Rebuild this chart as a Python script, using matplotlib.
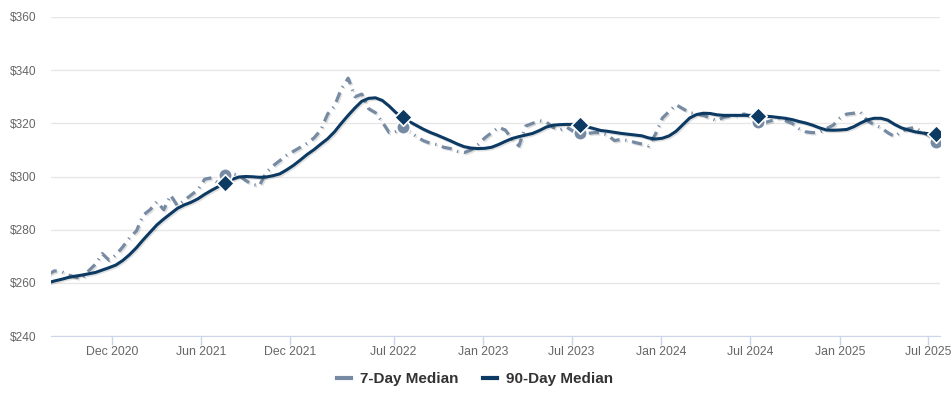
import numpy as np
import pandas as pd
import matplotlib
matplotlib.use("Agg")
import matplotlib.pyplot as plt
import matplotlib.patheffects as pe
from matplotlib.lines import Line2D
from matplotlib.ticker import FuncFormatter

plt.rcParams['font.family'] = ['Liberation Sans', 'DejaVu Sans']

# biweekly readings, last one 2025-07-16
dates = pd.date_range(end='2025-07-16', periods=131, freq='14D')

median_7d = [
    263.0, 264.5, 264.3, 263.0, 262.2, 261.5, 264.5, 267.0, 271.0, 268.5,
    270.5, 273.5, 277.0, 279.5, 285.5, 287.5, 290.5, 287.5, 293.0, 289.0,
    291.0, 293.0, 295.0, 299.0, 299.5, 297.5, 300.5, 301.0, 300.5, 298.5,
    297.0, 296.5, 301.5, 304.0, 306.0, 308.0, 309.5, 311.0, 312.5, 314.5,
    317.5, 323.5, 326.5, 333.0, 337.0, 330.0, 331.0, 325.5, 324.0, 320.5,
    316.5, 317.0, 318.5, 317.0, 315.0, 313.5, 312.5, 312.0, 311.0, 310.5,
    309.5, 309.0, 310.0, 312.0, 314.5, 316.5, 318.5, 317.5, 314.0, 311.5,
    319.0, 320.0, 321.0, 320.5, 318.5, 317.5, 318.5, 317.0, 316.3, 316.2,
    316.5, 316.5, 315.5, 313.5, 314.0, 313.5, 312.8, 312.2, 311.5, 316.0,
    322.0, 324.5, 327.0, 325.5, 324.0, 323.5, 323.0, 322.0, 321.0, 322.3,
    322.8, 323.0, 323.5, 322.5, 320.5, 320.3, 321.0, 321.8, 321.0, 320.0,
    318.0, 316.8, 316.5, 316.6, 318.0, 319.3, 322.0, 323.5, 323.8, 324.2,
    321.0, 319.5, 318.3, 316.5, 315.0, 317.0, 318.0, 318.5, 316.6, 315.5,
    313.0,
]

median_90d = [
    260.0, 260.7, 261.3, 262.0, 262.5, 262.9, 263.4, 263.9, 264.8, 265.7,
    266.7, 268.4, 270.6, 273.2, 276.2, 279.0, 281.8, 284.0, 286.0, 288.0,
    289.3, 290.3, 291.6, 293.3, 294.8, 296.2, 297.7, 298.9, 299.8, 300.0,
    299.9, 299.7, 299.8, 300.3, 301.0, 302.5, 304.2, 306.2, 308.3, 310.1,
    312.2, 314.2, 316.8, 320.0, 323.0, 325.8, 328.3, 329.4, 329.6, 328.6,
    326.5, 324.0, 322.2, 320.6, 319.2, 317.8, 316.6, 315.6, 314.5, 313.4,
    312.2, 311.2, 310.7, 310.5, 310.6, 311.0, 312.0, 313.2, 314.3, 315.0,
    315.6, 316.2, 317.3, 318.6, 319.3, 319.5, 319.6, 319.6, 319.2, 318.7,
    318.0, 317.3, 317.0, 316.6, 316.2, 315.9, 315.6, 315.3, 314.5, 314.1,
    314.4, 315.3, 317.0, 319.5, 322.0, 323.3, 323.8, 323.7, 323.2, 323.0,
    323.0, 323.0, 323.0, 323.0, 322.9, 322.7, 322.5, 322.2, 321.9, 321.4,
    320.7, 320.1, 319.3, 318.3, 317.5, 317.4, 317.5, 317.7, 318.7, 320.1,
    321.3, 321.9, 321.9, 321.2, 319.6, 318.3, 317.5, 316.8, 316.4, 316.1,
    315.8,
]

tick_dates = ['2020-12-01', '2021-06-01', '2021-12-01', '2022-07-01', '2023-01-01',
              '2023-07-01', '2024-01-01', '2024-07-01', '2025-01-01', '2025-07-01']
tick_labels = ['Dec 2020', 'Jun 2021', 'Dec 2021', 'Jul 2022', 'Jan 2023',
               'Jul 2023', 'Jan 2024', 'Jul 2024', 'Jan 2025', 'Jul 2025']

c7 = '#768ba3'
c90 = '#0c3a63'

s7 = pd.Series(median_7d, index=dates)
s90 = pd.Series(median_90d, index=dates)
# same day of year as the latest reading, one per year back
marks = [d for i, d in enumerate(dates) if i > 0 and (len(dates) - 1 - i) % 26 == 0]

fig = plt.figure(figsize=(9.53, 3.96), dpi=100)
ax = fig.add_axes([51 / 953, 60 / 396, 889 / 953, 319 / 396])

shadow = [pe.SimpleLineShadow(offset=(1, -1), shadow_color='k', alpha=0.12), pe.Normal()]
ax.plot(s7.index, s7.values, color=c7, lw=2.3, linestyle=(0, (3.2, 1.8, 0.4, 1.8)),
        path_effects=shadow, zorder=3, dash_capstyle='butt')
ax.plot(s90.index, s90.values, color=c90, lw=2.2, path_effects=shadow, zorder=4)

ax.scatter(marks, s7[marks], s=95, marker='o', color=c7, edgecolor='white',
           linewidth=1.2, zorder=5)
ax.scatter(marks, s90[marks], s=80, marker='D', color=c90, edgecolor='white',
           linewidth=1.2, zorder=6)

ax.set_xlim(pd.Timestamp('2020-07-29'), pd.Timestamp('2025-07-25'))
ax.set_ylim(240, 360)
ax.set_yticks(np.arange(240, 361, 20))
ax.yaxis.set_major_formatter(FuncFormatter(lambda v, p: f'${v:.0f}'))
ax.set_xticks([pd.Timestamp(d) for d in tick_dates])
ax.set_xticklabels(tick_labels)

ax.grid(axis='y', color='#e6e6e6', lw=1)
ax.set_axisbelow(True)
for side in ['top', 'right', 'left']:
    ax.spines[side].set_visible(False)
ax.spines['bottom'].set_color('#ccd6eb')
ax.tick_params(axis='y', length=0, pad=10.5, labelsize=8.6, labelcolor='#666666')
ax.tick_params(axis='x', length=6.5, width=1, color='#ccd6eb', pad=1,
               labelsize=8.8, labelcolor='#666666')

handles = [Line2D([], [], color=c7, lw=3), Line2D([], [], color=c90, lw=3)]
leg = fig.legend(handles, ['7-Day Median', '90-Day Median'], loc='center',
                 bbox_to_anchor=(475 / 953, 1 - 379 / 396), ncol=2, frameon=False,
                 handlelength=0.9, handletextpad=0.6, columnspacing=1.6,
                 prop={'weight': 'bold', 'size': 11})
for t in leg.get_texts():
    t.set_color('#333333')

fig.savefig('out.png', dpi=100)
